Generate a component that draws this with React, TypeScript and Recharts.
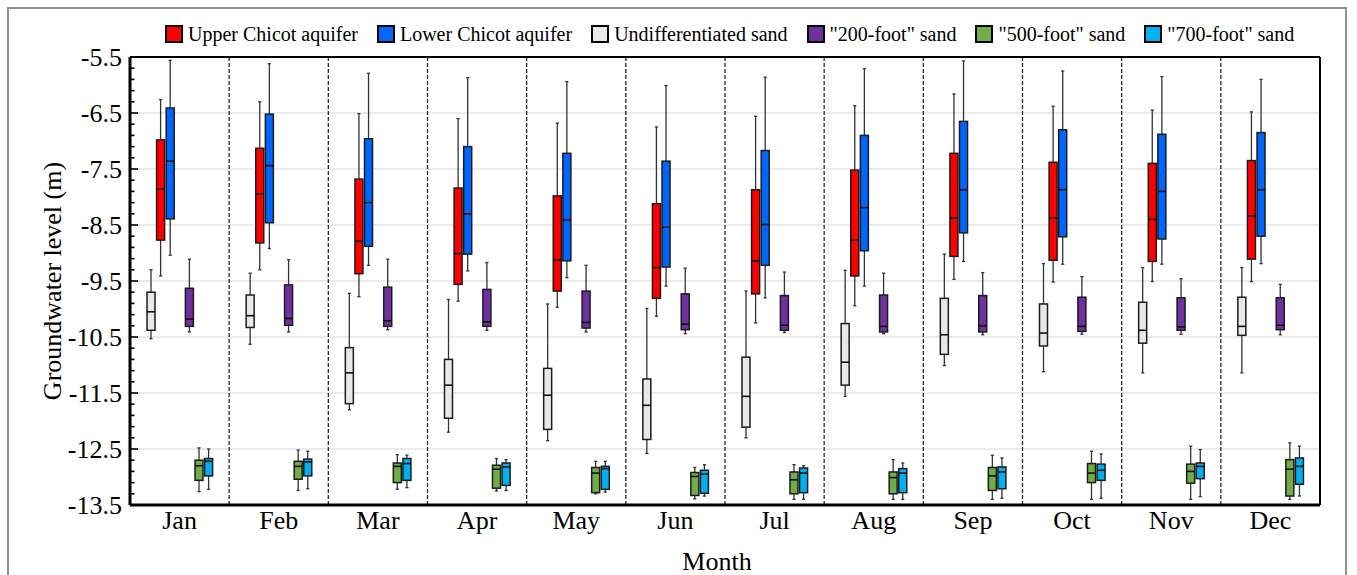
import { ComposedChart, Bar, XAxis, YAxis, CartesianGrid, ReferenceLine } from "recharts";

const FONT = "'Liberation Serif', 'Times New Roman', serif";

const months = ["Jan", "Feb", "Mar", "Apr", "May", "Jun", "Jul", "Aug", "Sep", "Oct", "Nov", "Dec"];

// each row: [min, q1, median, q3, max] in m, one row per month
const upperChicot = [
  [-9.41, -8.77, -7.86, -6.98, -6.26],
  [-9.3, -8.82, -7.95, -7.13, -6.3],
  [-9.78, -9.37, -8.79, -7.68, -6.51],
  [-9.86, -9.56, -9.01, -7.84, -6.6],
  [-9.97, -9.68, -9.12, -7.98, -6.68],
  [-10.13, -9.81, -9.26, -8.12, -6.75],
  [-10.25, -9.73, -9.14, -7.87, -6.56],
  [-9.94, -9.41, -8.77, -7.52, -6.37],
  [-9.47, -9.06, -8.38, -7.22, -6.16],
  [-9.52, -9.13, -8.38, -7.38, -6.38],
  [-9.51, -9.15, -8.4, -7.4, -6.45],
  [-9.51, -9.11, -8.34, -7.35, -6.48],
];

const lowerChicot = [
  [-9.04, -8.39, -7.36, -6.41, -5.56],
  [-8.92, -8.46, -7.44, -6.52, -5.62],
  [-9.22, -8.88, -8.1, -6.96, -5.79],
  [-9.32, -9.02, -8.3, -7.1, -5.87],
  [-9.44, -9.14, -8.41, -7.22, -5.94],
  [-9.59, -9.25, -8.54, -7.36, -6.01],
  [-9.8, -9.22, -8.49, -7.17, -5.86],
  [-9.59, -8.96, -8.19, -6.9, -5.71],
  [-9.15, -8.64, -7.87, -6.65, -5.57],
  [-9.2, -8.71, -7.87, -6.8, -5.75],
  [-9.2, -8.75, -7.9, -6.88, -5.85],
  [-9.19, -8.7, -7.87, -6.85, -5.9],
];

const undifferentiated = [
  [-10.53, -10.38, -10.05, -9.7, -9.3],
  [-10.63, -10.33, -10.12, -9.75, -9.36],
  [-11.8, -11.69, -11.14, -10.69, -9.72],
  [-12.2, -11.95, -11.36, -10.9, -9.83],
  [-12.35, -12.15, -11.54, -11.06, -9.91],
  [-12.58, -12.33, -11.72, -11.25, -9.99],
  [-12.3, -12.11, -11.56, -10.86, -9.68],
  [-11.56, -11.36, -10.95, -10.26, -9.31],
  [-11.01, -10.81, -10.46, -9.81, -9.02],
  [-11.12, -10.66, -10.43, -9.91, -9.19],
  [-11.14, -10.61, -10.38, -9.88, -9.26],
  [-11.14, -10.47, -10.31, -9.79, -9.26],
];

const sand200 = [
  [-10.41, -10.31, -10.18, -9.63, -9.11],
  [-10.41, -10.29, -10.17, -9.57, -9.12],
  [-10.37, -10.31, -10.21, -9.61, -9.11],
  [-10.38, -10.31, -10.23, -9.65, -9.17],
  [-10.41, -10.34, -10.24, -9.68, -9.22],
  [-10.44, -10.37, -10.27, -9.73, -9.27],
  [-10.42, -10.38, -10.29, -9.76, -9.34],
  [-10.44, -10.41, -10.31, -9.75, -9.36],
  [-10.46, -10.41, -10.3, -9.76, -9.35],
  [-10.45, -10.4, -10.31, -9.79, -9.42],
  [-10.45, -10.38, -10.32, -9.8, -9.46],
  [-10.46, -10.37, -10.29, -9.8, -9.56],
];

const sand500 = [
  [-13.26, -13.06, -12.8, -12.7, -12.48],
  [-13.24, -13.04, -12.81, -12.72, -12.52],
  [-13.22, -13.1, -12.81, -12.75, -12.6],
  [-13.25, -13.2, -12.86, -12.79, -12.67],
  [-13.3, -13.28, -12.93, -12.83, -12.72],
  [-13.39, -13.33, -12.99, -12.92, -12.83],
  [-13.4, -13.3, -13.05, -12.91, -12.78],
  [-13.4, -13.3, -13.01, -12.91, -12.69],
  [-13.4, -13.24, -12.98, -12.83, -12.61],
  [-13.4, -13.1, -12.93, -12.76, -12.54],
  [-13.4, -13.11, -12.9, -12.77, -12.45],
  [-13.4, -13.34, -12.86, -12.69, -12.39],
];

const sand700 = [
  [-13.22, -12.98, -12.72, -12.67, -12.5],
  [-13.21, -12.98, -12.73, -12.68, -12.54],
  [-13.19, -13.06, -12.76, -12.67, -12.61],
  [-13.24, -13.15, -12.82, -12.75, -12.69],
  [-13.27, -13.22, -12.85, -12.81, -12.72],
  [-13.34, -13.29, -12.95, -12.88, -12.78],
  [-13.4, -13.28, -12.93, -12.84, -12.8],
  [-13.4, -13.28, -12.93, -12.85, -12.75],
  [-13.38, -13.21, -12.91, -12.82, -12.66],
  [-13.38, -13.06, -12.88, -12.77, -12.59],
  [-13.35, -13.03, -12.81, -12.75, -12.51],
  [-13.34, -13.13, -12.81, -12.66, -12.45],
];

const majorTicks = [-13.5, -12.5, -11.5, -10.5, -9.5, -8.5, -7.5, -6.5, -5.5];
const gridLevels = [-12.5, -11.5, -10.5, -9.5, -8.5, -7.5, -6.5];

interface Series {
  key: string;
  name: string;
  color: string;
  stats: number[][];
}

const series: Series[] = [
  { key: "upper", name: "Upper Chicot aquifer", color: "#ff0000", stats: upperChicot },
  { key: "lower", name: "Lower Chicot aquifer", color: "#0066ff", stats: lowerChicot },
  { key: "undiff", name: "Undifferentiated sand", color: "#e8e8e8", stats: undifferentiated },
  { key: "s200", name: "\"200-foot\" sand", color: "#7030a0", stats: sand200 },
  { key: "s500", name: "\"500-foot\" sand", color: "#70ad47", stats: sand500 },
  { key: "s700", name: "\"700-foot\" sand", color: "#00b0f0", stats: sand700 },
];

// left-to-right slot order inside a month, "" keeps an empty slot
const slotOrder = ["undiff", "upper", "lower", "", "s200", "s500", "s700"];

const data = months.map((month, i) => {
  const row: Record<string, unknown> = { month };
  for (const s of series) row[s.key] = s.stats[i];
  return row;
});

const yDomain = [majorTicks[0], majorTicks[majorTicks.length - 1]];

// minor ticks every 0.2 m, labels only on the majors
const yTicks: number[] = [];
for (let i = 0; i <= 40; i++) yTicks.push(+(-13.5 + i * 0.2).toFixed(1));

function BoxShape(props: any) {
  const { x, y, width, height, payload, fill, statsKey } = props;
  const st = payload?.[statsKey] as number[] | undefined;
  if (!st || !height) return null;
  const [lo, q1, med, q3, hi] = st;
  const k = height / (q3 - q1);
  const py = (v: number) => y + (q3 - v) * k;
  const cx = x + width / 2;
  const top = Math.min(py(q3), py(q1));
  const ws = { stroke: "#333", strokeWidth: 1.3 };
  return (
    <g>
      <line x1={cx} x2={cx} y1={py(hi)} y2={py(q3)} {...ws} />
      <line x1={cx} x2={cx} y1={py(q1)} y2={py(lo)} {...ws} />
      <line x1={cx - 1.6} x2={cx + 1.6} y1={py(hi)} y2={py(hi)} {...ws} />
      <line x1={cx - 1.6} x2={cx + 1.6} y1={py(lo)} y2={py(lo)} {...ws} />
      <rect x={x} y={top} width={width} height={Math.abs(height)} fill={fill} stroke="#1c1c1c" strokeWidth={1.5} />
      <line x1={x} x2={x + width} y1={py(med)} y2={py(med)} stroke="#111" strokeWidth={1.6} />
    </g>
  );
}

function YTick(props: any) {
  const { x, y, payload } = props;
  const v = payload.value as number;
  const major = Math.round((v + 13.5) * 10) % 10 === 0;
  const ax = x + 8;
  return (
    <g>
      <line x1={ax} x2={ax + (major ? 8 : 4.5)} y1={y} y2={y} stroke="#000" strokeWidth={1.6} />
      {major && (
        <text x={x} y={y} dy="0.35em" textAnchor="end" fontSize={26} fontFamily={FONT} fill="#000">
          {v}
        </text>
      )}
    </g>
  );
}

function YLabel(props: any) {
  const vb = props.viewBox ?? { x: 0, y: 0, width: 0, height: 0 };
  const cx = vb.x + 43;
  const cy = vb.y + vb.height / 2;
  return (
    <text
      x={cx}
      y={cy}
      transform={`rotate(-90 ${cx} ${cy})`}
      textAnchor="middle"
      dominantBaseline="central"
      fontSize={26}
      fontFamily={FONT}
      fill="#000"
    >
      Groundwater level (m)
    </text>
  );
}

function XLabel(props: any) {
  const vb = props.viewBox ?? { x: 0, y: 0, width: 0, height: 0 };
  return (
    <text x={vb.x + vb.width / 2 - 8} y={vb.y + 65} textAnchor="middle" fontSize={26} fontFamily={FONT} fill="#000">
      Month
    </text>
  );
}

function LegendRow() {
  return (
    <div
      style={{
        position: "absolute",
        left: 156,
        top: 15,
        display: "flex",
        alignItems: "center",
        fontFamily: FONT,
        fontSize: 20,
        lineHeight: "20px",
        color: "#000",
        whiteSpace: "nowrap",
        zIndex: 2,
      }}
    >
      {series.map((s) => (
        <div key={s.key} style={{ display: "flex", alignItems: "center", marginRight: 19 }}>
          <span
            style={{
              display: "inline-block",
              width: 18,
              height: 18,
              boxSizing: "border-box",
              border: "2px solid #000",
              background: s.color,
              marginRight: 5,
            }}
          />
          <span>{s.name}</span>
        </div>
      ))}
    </div>
  );
}

export default function App() {
  return (
    <div
      style={{
        position: "fixed",
        left: 7,
        top: 7,
        width: 1336,
        height: 570,
        border: "2px solid #909090",
        borderBottom: "none",
        background: "#fff",
      }}
    >
      <LegendRow />
      <ComposedChart
        width={1336}
        height={566}
        data={data}
        margin={{ top: 47, right: 24, bottom: 30, left: 0 }}
        barSize={8}
        barGap={1.6}
      >
        <CartesianGrid vertical={false} horizontalValues={gridLevels} stroke="#e4e4e4" strokeWidth={1.5} />
        <XAxis
          dataKey="month"
          type="category"
          interval={0}
          tickLine={false}
          tickSize={0}
          tickMargin={6}
          height={40}
          axisLine={{ stroke: "#000", strokeWidth: 3 }}
          tick={{ fontSize: 26, fill: "#000", fontFamily: FONT }}
          label={<XLabel />}
        />
        {/* top and right frame of the plot */}
        <XAxis
          xAxisId="top"
          orientation="top"
          dataKey="month"
          type="category"
          height={1}
          tick={false}
          tickLine={false}
          axisLine={{ stroke: "#000", strokeWidth: 2 }}
        />
        <YAxis
          yAxisId="right"
          orientation="right"
          type="number"
          domain={yDomain}
          width={1}
          tick={false}
          tickLine={false}
          axisLine={{ stroke: "#000", strokeWidth: 2 }}
        />
        <YAxis
          type="number"
          domain={yDomain}
          ticks={yTicks}
          interval={0}
          width={121}
          tickLine={false}
          tickSize={0}
          tickMargin={8}
          allowDataOverflow
          axisLine={{ stroke: "#000", strokeWidth: 3 }}
          tick={<YTick />}
          label={<YLabel />}
        />
        {months.slice(1).map((m) => (
          <ReferenceLine
            key={`sep-${m}`}
            x={m}
            position="start"
            stroke="#2a2a2a"
            strokeWidth={1.3}
            strokeDasharray="4 2"
          />
        ))}
        {slotOrder.map((key, i) => {
          const s = series.find((q) => q.key === key);
          if (!s) {
            return <Bar key={`gap${i}`} dataKey="gap" fill="none" legendType="none" isAnimationActive={false} />;
          }
          return (
            <Bar
              key={s.key}
              name={s.name}
              dataKey={(d: any) => [d[s.key][1], d[s.key][3]]}
              fill={s.color}
              isAnimationActive={false}
              shape={(p: any) => <BoxShape {...p} statsKey={s.key} />}
            />
          );
        })}
      </ComposedChart>
    </div>
  );
}
